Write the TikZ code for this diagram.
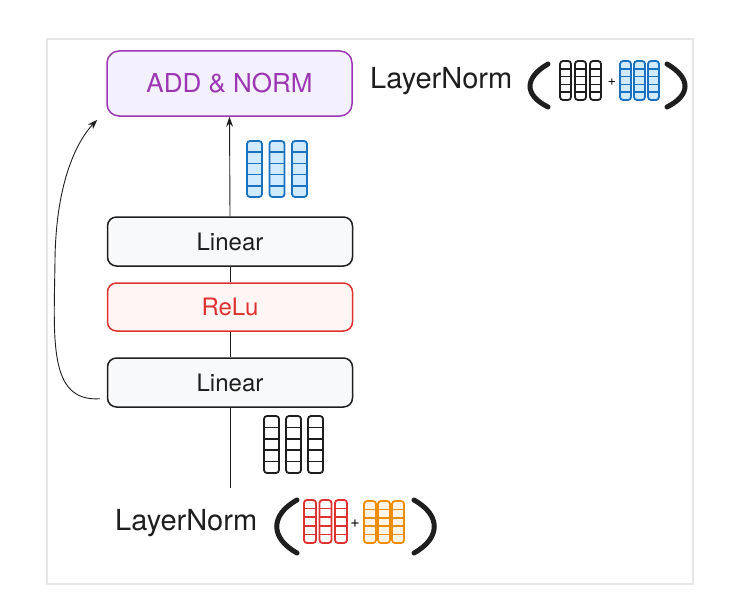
\documentclass[tikz,border=0pt]{standalone}
\usepackage{fontspec}
\setmainfont{TeX Gyre Heros}
\usepackage{tikz}
\usetikzlibrary{arrows.meta}
\usetikzlibrary{positioning,calc}
\usepackage{xcolor}

\definecolor{purp}{HTML}{9C36B5}
\definecolor{purpfill}{HTML}{F3F0FF}
\definecolor{redc}{HTML}{E03131}
\definecolor{redfill}{HTML}{FFF5F5}
\definecolor{boxfill}{HTML}{F8F9FA}
\definecolor{ink}{HTML}{1E1E1E}
\definecolor{bluec}{HTML}{1971C2}
\definecolor{bluefill}{HTML}{D0EBFF}
\definecolor{orangec}{HTML}{F08C00}
\definecolor{orangefill}{HTML}{FFF4E6}
\definecolor{framec}{HTML}{E6E6E6}

\tikzset{
  layer/.style={draw=ink, fill=boxfill, rounded corners=9pt, line width=1.5pt,
    minimum width=245pt, minimum height=49pt, inner sep=0pt,
    font={\fontsize{24pt}{28pt}\selectfont}, text=ink},
  addbox/.style={layer, draw=purp, fill=purpfill, text=purp, minimum height=65pt,
    rounded corners=12pt, font={\fontsize{26pt}{30pt}\selectfont}},
  relubox/.style={layer, draw=redc, fill=redfill, text=redc, minimum height=48pt},
  flow/.style={ink, line width=0.9pt},
  tip/.style={-{Stealth[length=10pt, width=7pt]}},
  paren/.style={ink, line width=5pt, line cap=round},
  lnorm/.style={inner sep=0pt, anchor=base west, text=ink, font={\fontsize{29pt}{32pt}\selectfont}},
}

% three columns of 5 cells: x, top y, column width, height, step, stroke, fill
\newcommand{\embcols}[7]{%
  \foreach \c in {0,1,2} {
    \draw[#6, fill=#7, line width=1.8pt, rounded corners=3pt]
      ({#1+\c*#5}, #2) rectangle ++(#3, #4);
    \foreach \r in {1,...,4} {
      \draw[#6, line width=1.5pt]
        ({#1+\c*#5}, {#2+\r*#4/5}) -- ++(#3, 0);
    }
  }
}

\begin{document}
\begin{tikzpicture}[x=1pt, y=-1pt]
  \useasboundingbox (0,0) rectangle (735,610);
  \draw[framec, line width=2pt] (47,39) rectangle (693,584);

  % Define nodes
  \node[addbox]  (addnorm) at (229.5,83.5) {ADD \& NORM};
  \node[layer]   (lin2)    at (230,241.5)  {Linear};
  \node[relubox] (relu)    at (230,307)    {ReLu};
  \node[layer]   (lin1)    at (230,382.5)  {Linear};
  \coordinate (inp) at (230,488);
  \coordinate (skip) at ($(lin1.south west)+(-7,-9)$);

  \node[lnorm] (lntop) at (370,88)  {LayerNorm};
  \node[lnorm] (lnbot) at (115,530) {LayerNorm};
  \node[inner sep=0pt, font=\fontsize{14pt}{14pt}\selectfont] (plustop) at (612,82)  {+};
  \node[inner sep=0pt, font=\fontsize{16pt}{16pt}\selectfont] (plusbot) at (355,524) {+};

  % Connect the nodes
  \draw[flow] (inp) -- (lin1.south);
  \draw[flow] (lin1.north) -- (relu.south);
  \draw[flow] (relu.north) -- (lin2.south);
  \draw[flow, tip] (lin2.north) -- (addnorm.south);
  \draw[flow, tip] (skip)
    .. controls (48,402) and (54,340) .. (55,260)
    .. controls (56,180) and (78,140) .. ($(addnorm.south west)+(-9,3)$);

  % Vectors
  \embcols{247}{141}{15}{56}{22.5}{bluec}{bluefill}
  \embcols{264}{416}{15}{57}{22}{ink}{white}
  \embcols{560}{61}{11}{39}{15}{ink}{white}
  \embcols{620}{61}{11}{39}{14}{bluec}{bluefill}
  \embcols{304}{500}{12}{43}{15.5}{redc}{white}
  \embcols{364}{501}{12}{42}{14}{orangec}{orangefill}

  % Brackets
  \draw[paren] (548,64) .. controls (524,78) and (524,95) .. (548,107);
  \draw[paren] (667,64) .. controls (691,78) and (691,95) .. (667,107);
  \draw[paren] (297,500) .. controls (270,515) and (270,538) .. (297,553);
  \draw[paren] (414,500) .. controls (441,515) and (441,538) .. (414,553);
\end{tikzpicture}
\end{document}
